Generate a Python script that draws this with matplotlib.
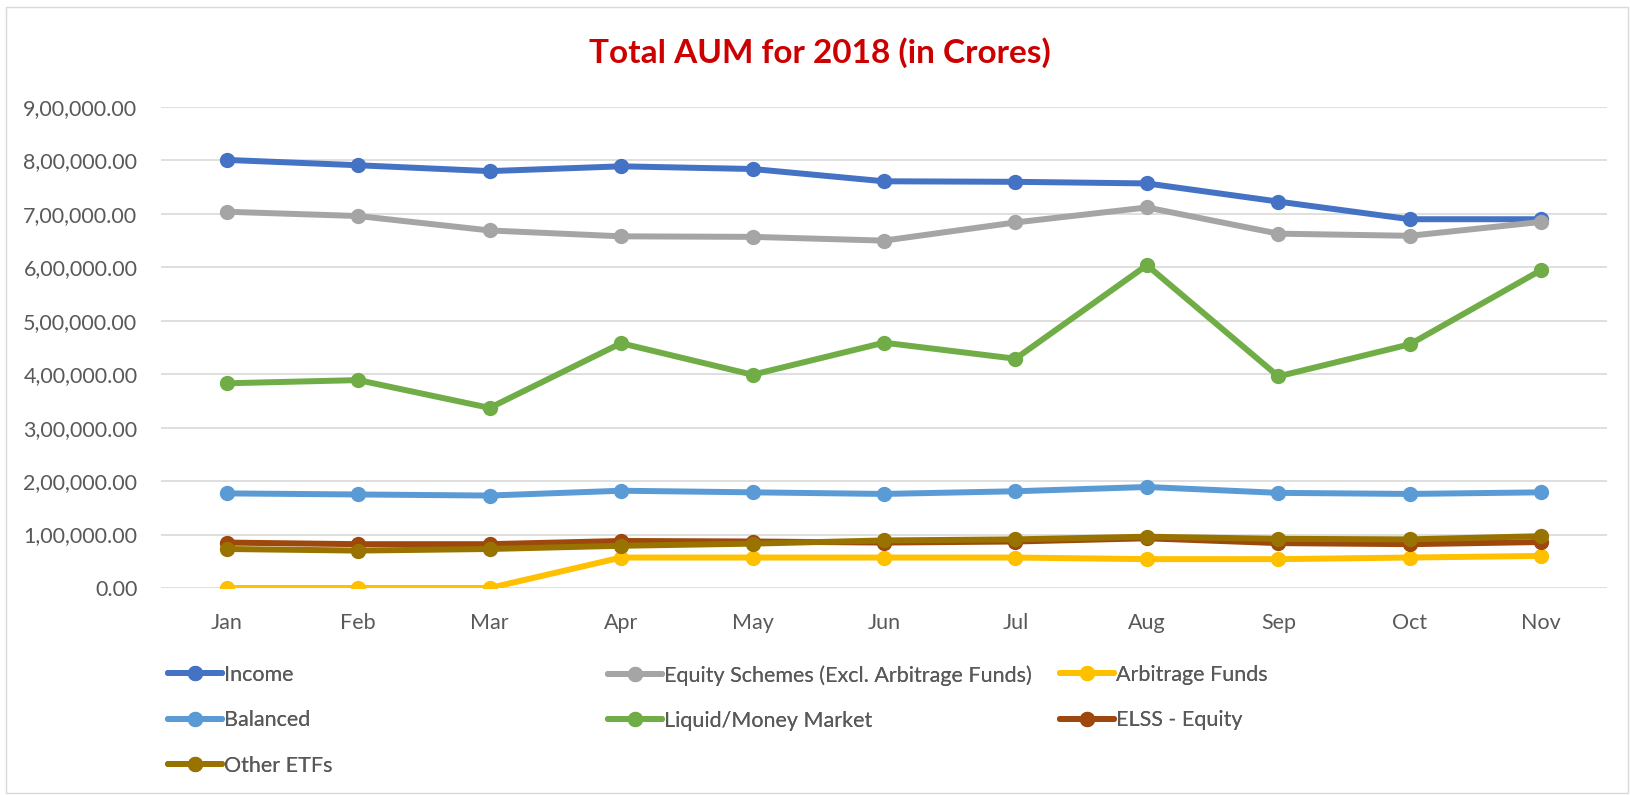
import numpy as np
import matplotlib
matplotlib.use("Agg")
import matplotlib.pyplot as plt
from matplotlib.ticker import FuncFormatter
from matplotlib.patches import Rectangle

plt.rcParams['font.family'] = ['Lato', 'DejaVu Sans']

# Data (Rs crore)
months = ["Jan", "Feb", "Mar", "Apr", "May", "Jun", "Jul", "Aug", "Sep", "Oct", "Nov"]
income = [801000, 791000, 780000, 789000, 784000, 761000, 760000, 757000, 723000, 690000, 690000]
equity = [704000, 696000, 669000, 658000, 657000, 650000, 684000, 712000, 663000, 659000, 685000]
arbitrage = [0, 0, 0, 57000, 57000, 57000, 57000, 54000, 54000, 57000, 60000]
balanced = [177000, 175000, 173000, 182000, 179000, 176000, 181000, 189000, 178000, 176000, 179000]
liquid = [383000, 389000, 337000, 458000, 399000, 459000, 429000, 604000, 396000, 456000, 595000]
elss = [85000, 82000, 82000, 88000, 87000, 85000, 87000, 93000, 84000, 82000, 86000]
other_etfs = [73000, 70000, 73000, 79000, 83000, 89000, 91000, 96000, 92000, 91000, 97000]

names = ["Income", "Equity Schemes (Excl. Arbitrage Funds)", "Arbitrage Funds",
         "Balanced", "Liquid/Money Market", "ELSS - Equity", "Other ETFs"]
series = [income, equity, arbitrage, balanced, liquid, elss, other_etfs]
colors = ["#4472C4", "#A5A5A5", "#FFC000", "#5B9BD5", "#70AD47", "#9E480E", "#997300"]


def indian_fmt(v, pos):
    s = "%.2f" % v
    whole, dec = s.split(".")
    if len(whole) > 3:
        head, tail = whole[:-3], whole[-3:]
        parts = []
        while len(head) > 2:
            parts.insert(0, head[-2:])
            head = head[:-2]
        if head:
            parts.insert(0, head)
        whole = ",".join(parts) + "," + tail
    return whole + "." + dec


fig = plt.figure(figsize=(16.3, 7.95), dpi=100)
ax = fig.add_axes([161/1630, 1 - 588/795, (1607-161)/1630, (588-107)/795])

x = np.arange(len(months))
handles = {}
for name, vals, c in zip(names, series, colors):
    h, = ax.plot(x, vals, color=c, lw=4.3, marker='o', markersize=10,
                 solid_joinstyle='round', solid_capstyle='round', zorder=3)
    handles[name] = h

ax.set_xlim(-0.5, len(months) - 0.5)
ax.set_ylim(0, 900000)
ax.set_yticks(np.arange(0, 900001, 100000))
ax.yaxis.set_major_formatter(FuncFormatter(indian_fmt))
ax.set_xticks(x)
ax.set_xticklabels(months)
ax.grid(axis='y', color='#D9D9D9', lw=1.2, zorder=0)
for s in ax.spines.values():
    s.set_visible(False)
ax.tick_params(axis='both', length=0, labelsize=15.5, labelcolor='#595959')
ax.tick_params(axis='y', pad=17)
ax.tick_params(axis='x', pad=18)

fig.text(820/1630, 1 - 53/795, "Total AUM for 2018 (in Crores)", ha='center', va='center',
         fontsize=24, fontweight='bold', color='#CC0000')

# legend, laid out like Excel (row by row, three columns)
cols = [["Income", "Balanced", "Other ETFs"],
        ["Equity Schemes (Excl. Arbitrage Funds)", "Liquid/Money Market"],
        ["Arbitrage Funds", "ELSS - Equity"]]
col_x = [168, 608, 1060]
for cx, col in zip(col_x, cols):
    leg = fig.legend([handles[n] for n in col], col, loc='upper left',
                     bbox_to_anchor=(cx/1630, 1 - 665/795), frameon=False,
                     fontsize=15.5, labelcolor='#595959', handlelength=2.5,
                     handletextpad=0.12, labelspacing=1.18, borderaxespad=0, borderpad=0)
    fig.add_artist(leg)

fig.patches.append(Rectangle((6/1630, 2/795), 1622/1630, 786/795, transform=fig.transFigure,
                             fill=False, edgecolor='#D9D9D9', lw=1))

fig.savefig("out.png", dpi=100, facecolor='white')
